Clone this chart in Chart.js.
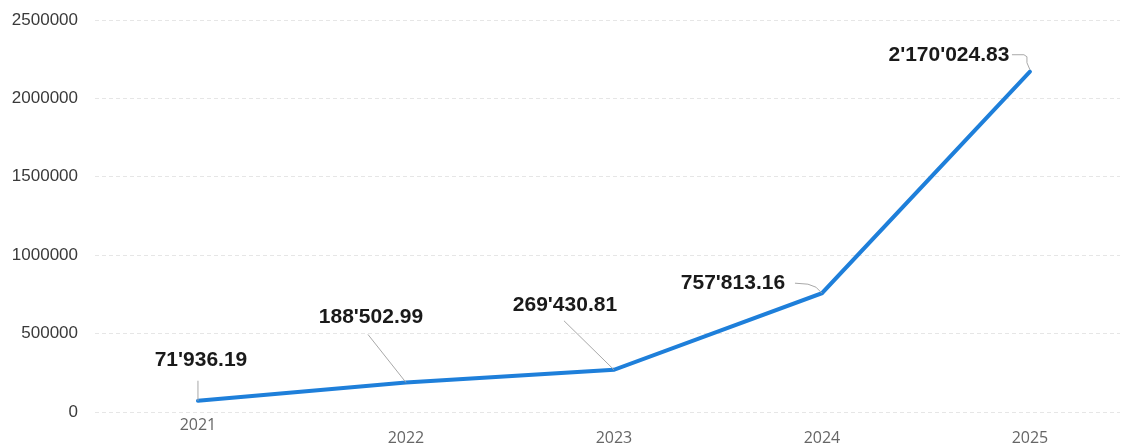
<!DOCTYPE html>
<html>
<head>
<meta charset="utf-8">
<script src="https://cdn.jsdelivr.net/npm/chart.js@4.4.1/dist/chart.umd.min.js"></script>
<style>
html,body{margin:0;padding:0;background:#fff;}
#wrap{width:1128px;height:447px;position:relative;}
</style>
</head>
<body>
<div id="wrap"><canvas id="c" width="1128" height="447"></canvas></div>
<script>
// ---- data ----
const years = [2021, 2022, 2023, 2024, 2025];
const values = [71936.19, 188502.99, 269430.81, 757813.16, 2170024.83];
const yTicks = [0, 500000, 1000000, 1500000, 2000000, 2500000];

// ---- label styling (offsets relative to the point, in px) ----
const labelStyle = [
  {dx: 3,   dy: -41, leader: [[0,-20],[0,0]]},
  {dx: -35, dy: -65, leader: [[-38,-48],[0,0]]},
  {dx: -49, dy: -65, leader: [[-50,-49],[0,0]]},
  {dx: -89, dy: -10, leader: [[-27,-10],[-14,-9],[-6,-6],[0,0]]},
  {dx: -81, dy: -17, leader: [[-18,-17],[-6,-17],[-3,-15],[-3,-9],[0,-2]]}
];

function fmt(v){
  const parts = v.toFixed(2).split('.');
  return parts[0].replace(/\B(?=(\d{3})+(?!\d))/g, "'") + '.' + parts[1];
}

const labelPlugin = {
  id: 'valueLabels',
  afterDatasetsDraw(chart){
    const ctx = chart.ctx;
    const meta = chart.getDatasetMeta(0);
    ctx.save();
    meta.data.forEach((pt, i) => {
      const s = labelStyle[i];
      ctx.strokeStyle = '#a8a8a8';
      ctx.lineWidth = 1;
      ctx.beginPath();
      s.leader.forEach((p, k) => {
        const x = pt.x + p[0], y = pt.y + p[1];
        if (k === 0) ctx.moveTo(x, y); else ctx.lineTo(x, y);
      });
      ctx.stroke();
      ctx.fillStyle = '#1a1a1a';
      ctx.font = 'bold 21px "Liberation Sans", Arial, sans-serif';
      ctx.textAlign = 'center';
      ctx.textBaseline = 'middle';
      ctx.fillText(fmt(values[i]), pt.x + s.dx, pt.y + s.dy);
    });
    ctx.restore();
  }
};

new Chart(document.getElementById('c'), {
  type: 'line',
  data: {
    datasets: [{
      data: years.map((y, i) => ({x: y, y: values[i]})),
      borderColor: '#1E7FDA',
      borderWidth: 4,
      pointRadius: 0,
      tension: 0,
      borderCapStyle: 'round',
      borderJoinStyle: 'miter',
      fill: false
    }]
  },
  options: {
    responsive: false,
    animation: false,
    layout: {padding: {top: 20, right: 8, left: 0, bottom: 0}},
    plugins: {legend: {display: false}, tooltip: {enabled: false}},
    scales: {
      x: {
        type: 'linear',
        min: 2020.505,
        max: 2025.433,
        afterBuildTicks(scale){ scale.ticks = years.map(v => ({value: v})); },
        afterFit(scale){ scale.height = 35; scale.paddingLeft = 0; scale.paddingRight = 0; },
        grid: {display: false, drawTicks: false},
        border: {display: false},
        ticks: {
          padding: 7,
          maxRotation: 0,
          autoSkip: false,
          color: '#666',
          font: {family: '"Open Sans", sans-serif', size: 16, lineHeight: '13px'},
          callback: (v) => v === years[0] ? String(v) : ['', String(v)]
        }
      },
      y: {
        min: 0,
        max: 2500000,
        afterBuildTicks(scale){ scale.ticks = yTicks.map(v => ({value: v})); },
        afterFit(scale){ scale.width = 95; scale.paddingTop = 0; scale.paddingBottom = 0; },
        grid: {color: '#e6e6e6', lineWidth: 1, drawTicks: false},
        border: {display: false, dash: [4, 3]},
        ticks: {
          padding: 17,
          color: '#3a3a3a',
          font: {family: '"Liberation Sans", Arial, sans-serif', size: 17},
          callback: (v) => String(v)
        }
      }
    }
  },
  plugins: [labelPlugin]
});
</script>
</body>
</html>
